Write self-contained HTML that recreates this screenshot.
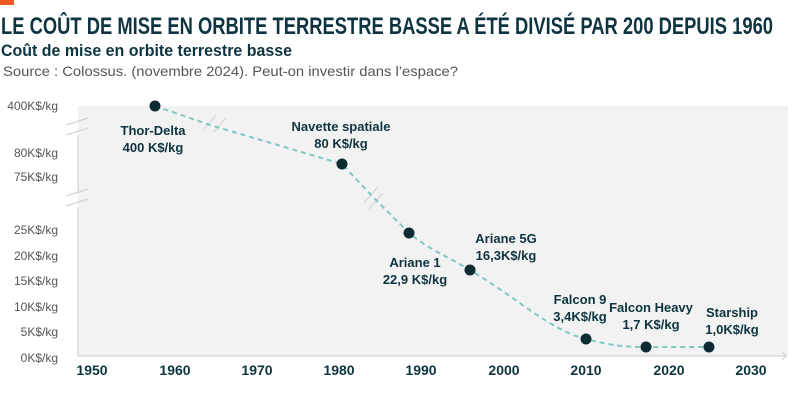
<!DOCTYPE html>
<html><head><meta charset="utf-8"><style>
html,body{margin:0;padding:0;background:#fff;width:800px;height:403px;overflow:hidden}
svg{display:block;font-family:"Liberation Sans",sans-serif}
</style></head><body>
<svg width="800" height="403" viewBox="0 0 800 403">
<rect x="0" y="0" width="14" height="5" fill="#f05a22"/>
<text x="1" y="34" font-size="24" font-weight="bold" fill="#0d3440" textLength="772" lengthAdjust="spacingAndGlyphs">LE COÛT DE MISE EN ORBITE TERRESTRE BASSE A ÉTÉ DIVISÉ PAR 200 DEPUIS 1960</text>
<text x="1" y="56" font-size="17" font-weight="bold" fill="#0d3440" textLength="291" lengthAdjust="spacingAndGlyphs">Coût de mise en orbite terrestre basse</text>
<text x="3" y="76" font-size="14" fill="#555" textLength="455" lengthAdjust="spacingAndGlyphs">Source : Colossus. (novembre 2024). Peut-on investir dans l’espace?</text>
<rect x="78" y="106" width="710" height="250" fill="#f2f2f2"/>
<g stroke="#d4d4d4" stroke-width="1.2" fill="none">
<line x1="78" y1="135" x2="78" y2="194"/>
<line x1="78" y1="207" x2="78" y2="356"/>
<line x1="78" y1="356" x2="786" y2="356"/>
<polyline points="782,352 786,356 782,360"/>
<line x1="66" y1="125" x2="88" y2="118"/><line x1="66" y1="135" x2="88" y2="128"/>
<line x1="66" y1="196" x2="88" y2="189"/><line x1="66" y1="206" x2="88" y2="199"/>
<line x1="204" y1="129" x2="216" y2="115"/><line x1="214" y1="132" x2="226" y2="118"/>
<line x1="364" y1="203" x2="378" y2="187"/><line x1="369" y1="209" x2="383" y2="193"/>
</g>
<g font-size="12" fill="#555" text-anchor="end">
<text x="58" y="110">400K$/kg</text><text x="58" y="157">80K$/kg</text><text x="58" y="181">75K$/kg</text>
<text x="58" y="234">25K$/kg</text><text x="58" y="260">20K$/kg</text><text x="58" y="285">15K$/kg</text>
<text x="58" y="311">10K$/kg</text><text x="58" y="336">5K$/kg</text><text x="58" y="362">0K$/kg</text>
</g>
<g font-size="14" font-weight="bold" fill="#0d3440" text-anchor="middle">
<text x="92" y="375">1950</text><text x="175" y="375">1960</text><text x="257" y="375">1970</text>
<text x="339" y="375">1980</text><text x="421" y="375">1990</text><text x="504" y="375">2000</text>
<text x="586" y="375">2010</text><text x="669" y="375">2020</text><text x="751" y="375">2030</text>
</g>
<path d="M155,106 L210,125 L342,164 L372,196 L409,233 C430,250 450,258 470,270 C520,300 550,330 586,339 C610,345 620,347 646,347 L709,347" fill="none" stroke="#7fc8c4" stroke-width="2" stroke-dasharray="5,4"/>
<g fill="#0d2b33">
<circle cx="155" cy="106" r="5.5"/><circle cx="342" cy="164" r="5.5"/><circle cx="409" cy="233" r="5.5"/>
<circle cx="470" cy="270" r="5.5"/><circle cx="586" cy="339" r="5.5"/><circle cx="646" cy="347" r="5.5"/><circle cx="709" cy="347" r="5.5"/>
</g>
<g font-size="13" font-weight="bold" fill="#0d3440" text-anchor="middle">
<text x="153" y="135">Thor-Delta</text><text x="153" y="152">400 K$/kg</text>
<text x="341" y="131">Navette spatiale</text><text x="341" y="148">80 K$/kg</text>
<text x="415" y="267">Ariane 1</text><text x="415" y="284">22,9 K$/kg</text>
<text x="506" y="243">Ariane 5G</text><text x="506" y="260">16,3K$/kg</text>
<text x="580" y="304">Falcon 9</text><text x="580" y="321">3,4K$/kg</text>
<text x="651" y="312">Falcon Heavy</text><text x="651" y="329">1,7 K$/kg</text>
<text x="732" y="317">Starship</text><text x="732" y="334">1,0K$/kg</text>
</g>
</svg>
</body></html>
